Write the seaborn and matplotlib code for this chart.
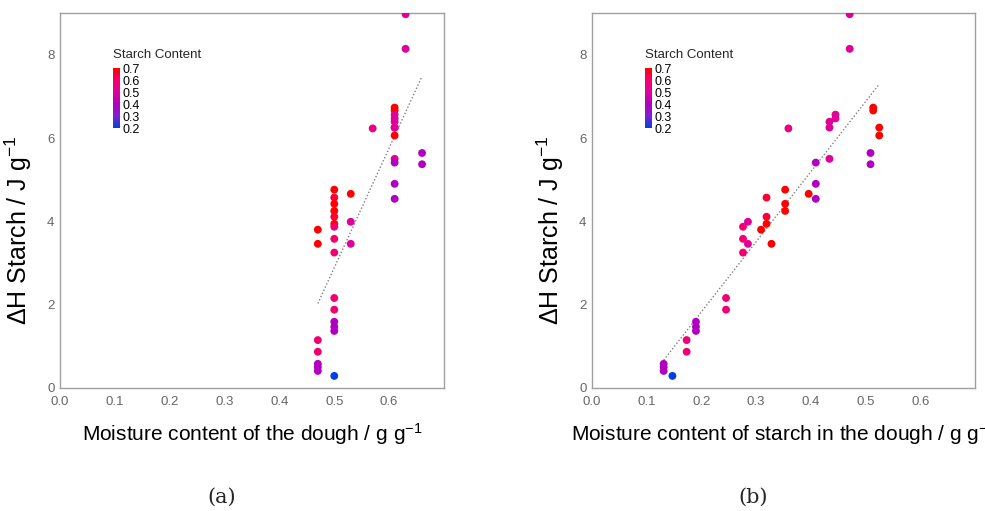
import numpy as np
import pandas as pd
import seaborn as sns
import matplotlib.pyplot as plt
from matplotlib.colors import LinearSegmentedColormap, Normalize
from matplotlib.cm import ScalarMappable

# -----------------------------------------------------
# Data (one entry per sample)
# -----------------------------------------------------

dough_mc = [0.47, 0.47, 0.47, 0.47, 0.47, 0.47, 0.47,
            0.50, 0.50, 0.50, 0.50, 0.50, 0.50, 0.50, 0.50, 0.50, 0.50, 0.50, 0.50, 0.50, 0.50, 0.50,
            0.53, 0.53, 0.53,
            0.57,
            0.61, 0.61, 0.61, 0.61, 0.61, 0.61, 0.61, 0.61, 0.61, 0.61, 0.61, 0.61,
            0.63, 0.63,
            0.66, 0.66]

starch_mc = [0.309, 0.328, 0.173, 0.173, 0.131, 0.131, 0.131,
             0.353, 0.319, 0.353, 0.353, 0.319, 0.319, 0.276, 0.276, 0.276, 0.245, 0.245, 0.190, 0.190, 0.190, 0.147,
             0.396, 0.285, 0.285,
             0.359,
             0.514, 0.514, 0.525, 0.525, 0.445, 0.445, 0.434, 0.434, 0.434, 0.409, 0.409, 0.409,
             0.471, 0.471,
             0.509, 0.509]

delta_h = [3.80, 3.46, 1.15, 0.87, 0.58, 0.50, 0.41,
           4.76, 4.57, 4.42, 4.25, 4.11, 3.94, 3.87, 3.58, 3.25, 2.16, 1.88, 1.59, 1.47, 1.37, 0.29,
           4.66, 3.99, 3.46,
           6.23,
           6.73, 6.66, 6.25, 6.06, 6.56, 6.47, 6.39, 6.25, 5.50, 5.41, 4.90, 4.54,
           8.97, 8.14,
           5.64, 5.37]

starch_content = [0.7, 0.7, 0.6, 0.6, 0.4, 0.4, 0.4,
                  0.7, 0.65, 0.7, 0.7, 0.65, 0.7, 0.6, 0.6, 0.6, 0.6, 0.6, 0.4, 0.4, 0.4, 0.2,
                  0.7, 0.5, 0.5,
                  0.55,
                  0.7, 0.7, 0.7, 0.7, 0.5, 0.5, 0.5, 0.5, 0.5, 0.4, 0.4, 0.4,
                  0.5, 0.5,
                  0.4, 0.4]

cbar_ticks = [0.2, 0.3, 0.4, 0.5, 0.6, 0.7]
x_ticks = [0.0, 0.1, 0.2, 0.3, 0.4, 0.5, 0.6]
y_ticks = [0, 2, 4, 6, 8]

df = pd.DataFrame({"dough_mc": dough_mc, "starch_mc": starch_mc,
                   "dH": delta_h, "starch": starch_content})

# -----------------------------------------------------
# Style
# -----------------------------------------------------

sns.set_theme(style="white")
plt.rcParams['font.family'] = ['Liberation Sans', 'DejaVu Sans']
plt.rcParams['mathtext.fontset'] = 'custom'
plt.rcParams['mathtext.rm'] = 'Liberation Sans'

cmap = LinearSegmentedColormap.from_list(
    "starch", [(0.0, "#0040e0"), (0.2, "#8020d0"), (0.4, "#b000c0"),
               (0.6, "#e0009a"), (0.8, "#f20070"), (1.0, "#ff0000")])
norm = Normalize(0.2, 0.7)

fig = plt.figure(figsize=(9.85, 5.11), dpi=100)
ax_a = fig.add_axes([60 / 985, 1 - 388 / 511, 384 / 985, 375 / 511])
ax_b = fig.add_axes([592 / 985, 1 - 388 / 511, 383 / 985, 375 / 511])

panels = [
    (ax_a, "dough_mc", r"Moisture content of the dough / g g$\mathregular{^{-1}}$", "(a)"),
    (ax_b, "starch_mc", r"Moisture content of starch in the dough / g g$\mathregular{^{-1}}$", "(b)"),
]

for ax, col, xlabel, tag in panels:
    sns.regplot(data=df, x=col, y="dH", ax=ax, scatter=False, ci=None, color="#808080",
                line_kws={"linewidth": 1, "linestyle": (0, (1, 1.5))})
    sns.scatterplot(data=df, x=col, y="dH", hue="starch", palette=cmap, hue_norm=norm,
                    s=32, linewidth=0, legend=False, ax=ax, zorder=3)

    ax.set_xlim(0, 0.7)
    ax.set_ylim(0, 9)
    ax.set_xticks(x_ticks)
    ax.set_yticks(y_ticks)
    ax.xaxis.set_major_formatter('{x:.1f}')
    ax.tick_params(axis='both', direction='in', length=3, color='#999999',
                   labelcolor='#666666', labelsize=9.5)
    ax.tick_params(axis='x', pad=6)
    ax.tick_params(axis='y', pad=4)
    for s in ax.spines.values():
        s.set_color('#a0a0a0')
        s.set_linewidth(1)

    ax.set_xlabel(xlabel, fontsize=15, labelpad=9, color='black')
    ax.set_ylabel(r"ΔH Starch / J g$\mathregular{^{-1}}$", fontsize=18, color='black')
    ax.yaxis.set_label_coords(-0.068, 0.42)

    # colour legend
    cax = ax.inset_axes([0.138, 0.693, 0.018, 0.16])
    cb = fig.colorbar(ScalarMappable(norm=norm, cmap=cmap), cax=cax, ticks=cbar_ticks)
    cb.outline.set_visible(False)
    cax.tick_params(length=0, labelsize=9, pad=2, labelcolor='black')
    ax.text(0.138, 0.872, "Starch Content", transform=ax.transAxes, fontsize=9.5,
            ha='left', va='bottom')

    pos = ax.get_position()
    fig.text(pos.x0 + pos.width / 2 - 30 / 985, 0.027, tag, family='DejaVu Serif',
             fontsize=15, ha='center', va='center')

fig.savefig("out.png", dpi=100)
